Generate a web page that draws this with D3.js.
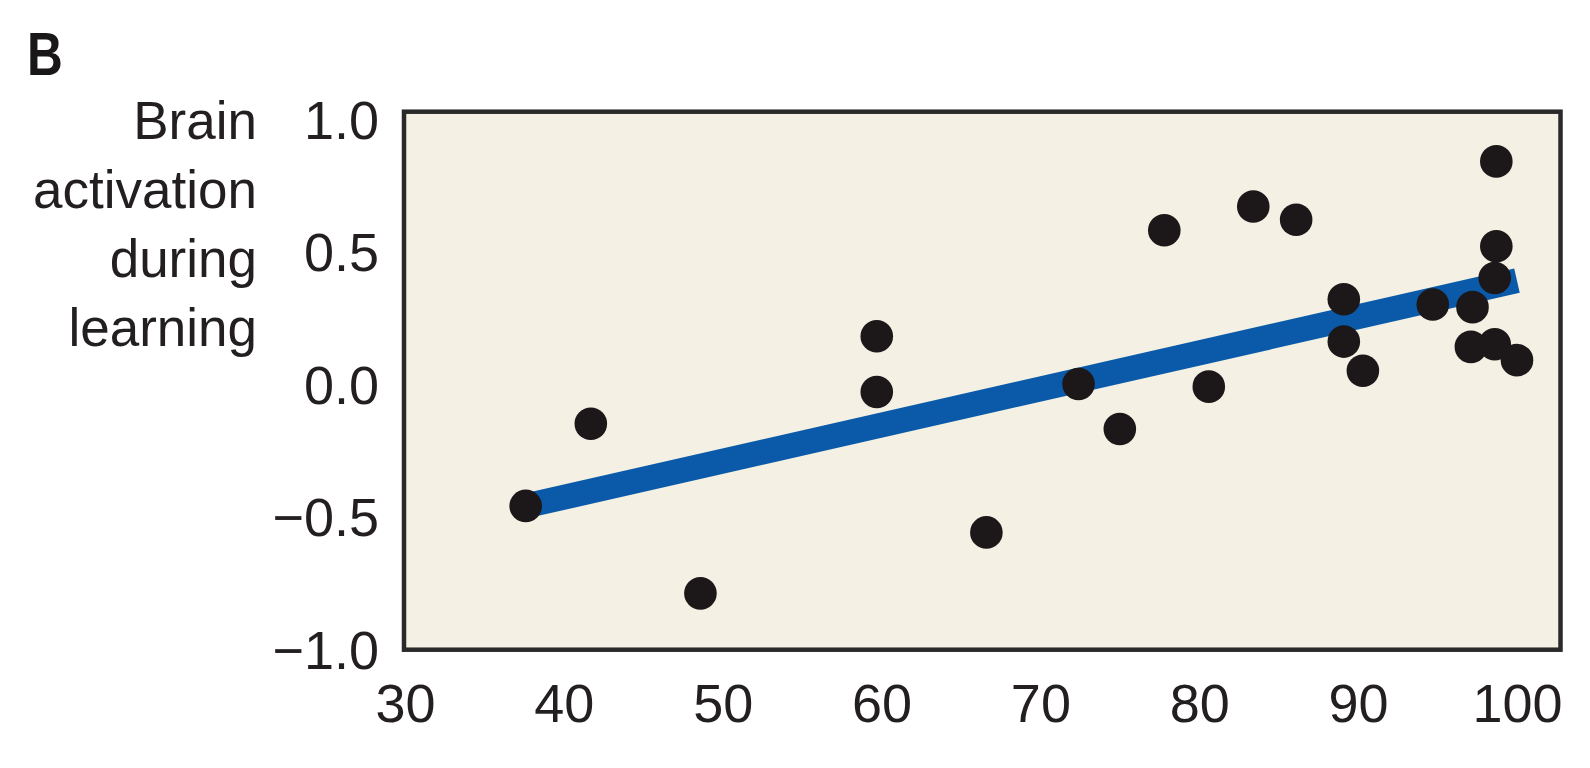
<!DOCTYPE html>
<html>
<head>
<meta charset="utf-8">
<script src="https://cdn.jsdelivr.net/npm/d3@7"></script>
<style>
  html, body { margin: 0; padding: 0; background: #ffffff; }
  svg { display: block; }
</style>
</head>
<body>
<svg id="chart" width="1590" height="768"></svg>
<script>
// ---- data ----
const panelLabel = "B";
const yTitleLines = ["Brain", "activation", "during", "learning"];
const xTicks = [30, 40, 50, 60, 70, 80, 90, 100];
const yTicks = [-1.0, -0.5, 0.0, 0.5, 1.0];
const scoreX = [37.6, 41.7, 48.6, 59.7, 59.7, 66.6, 72.4, 75.0, 77.8, 80.6, 83.4, 86.1,
                89.1, 89.1, 90.3, 94.7, 97.2, 97.1, 98.7, 98.7, 98.6, 98.6, 100.0];
const activationY = [-0.46, -0.15, -0.79, 0.18, -0.03, -0.56, 0.00, -0.17, 0.58, -0.01, 0.67, 0.62,
                     0.32, 0.16, 0.05, 0.30, 0.29, 0.14, 0.84, 0.52, 0.40, 0.15, 0.09];
const fitX = [37.6, 100.0];
const fitY = [-0.46, 0.39];

// ---- layout ----
const plot = { left: 404, right: 1560.5, top: 111.7, bottom: 649.7 };
const svg = d3.select("#chart");
const font = "'Liberation Sans', Arial, Helvetica, sans-serif";
const ink = "#231f20";

const x = d3.scaleLinear().domain([29.94, 102.74]).range([plot.left, plot.right]);
const y = d3.scaleLinear().domain([-1.0026, 1.0275]).range([plot.bottom, plot.top]);

// plot background
svg.append("rect")
  .attr("x", plot.left).attr("y", plot.top)
  .attr("width", plot.right - plot.left).attr("height", plot.bottom - plot.top)
  .attr("fill", "#f4f1e4");

// regression line
const pts = fitX.map((d, i) => [d, fitY[i]]);
svg.append("path")
  .datum(pts)
  .attr("d", d3.line().x(d => x(d[0])).y(d => y(d[1])))
  .attr("fill", "none")
  .attr("stroke", "#0b5aa9")
  .attr("stroke-width", 25)
  .attr("stroke-linecap", "butt");

// dots
svg.append("g").selectAll("circle")
  .data(scoreX.map((d, i) => ({ x: d, y: activationY[i] })))
  .join("circle")
  .attr("cx", d => x(d.x))
  .attr("cy", d => y(d.y))
  .attr("r", 16.3)
  .attr("fill", "#1c1819");

// frame
svg.append("rect")
  .attr("x", plot.left).attr("y", plot.top)
  .attr("width", plot.right - plot.left).attr("height", plot.bottom - plot.top)
  .attr("fill", "none")
  .attr("stroke", "#2a2a2a")
  .attr("stroke-width", 4.5);

// y axis labels
const yAxis = d3.axisLeft(y).tickValues(yTicks).tickSize(0).tickPadding(25)
  .tickFormat(d3.format(".1f"));
const gy = svg.append("g").attr("transform", `translate(${plot.left},0)`).call(yAxis);
gy.select(".domain").remove();
gy.selectAll("text")
  .attr("dy", "0.36em")
  .style("font-family", font).style("font-size", "54px").attr("fill", ink);

// x axis labels
const xAxis = d3.axisBottom(x).tickValues(xTicks).tickSize(0).tickPadding(34)
  .tickFormat(d3.format("d"));
const gx = svg.append("g").attr("transform", `translate(0,${plot.bottom})`).call(xAxis);
gx.select(".domain").remove();
gx.selectAll("text")
  .style("font-family", font).style("font-size", "54px").attr("fill", ink);

// y title
const yt = svg.append("text")
  .attr("text-anchor", "end")
  .style("font-family", font).style("font-size", "53px").attr("fill", ink);
yTitleLines.forEach((t, i) => {
  yt.append("tspan").attr("x", 257).attr("y", 138.5 + i * 69).text(t);
});

// panel label
svg.append("text")
  .attr("transform", "translate(27,75) scale(0.8,1)")
  .style("font-family", font).style("font-size", "62px").style("font-weight", "bold")
  .attr("fill", "#1a1718")
  .text(panelLabel);
</script>
</body>
</html>
